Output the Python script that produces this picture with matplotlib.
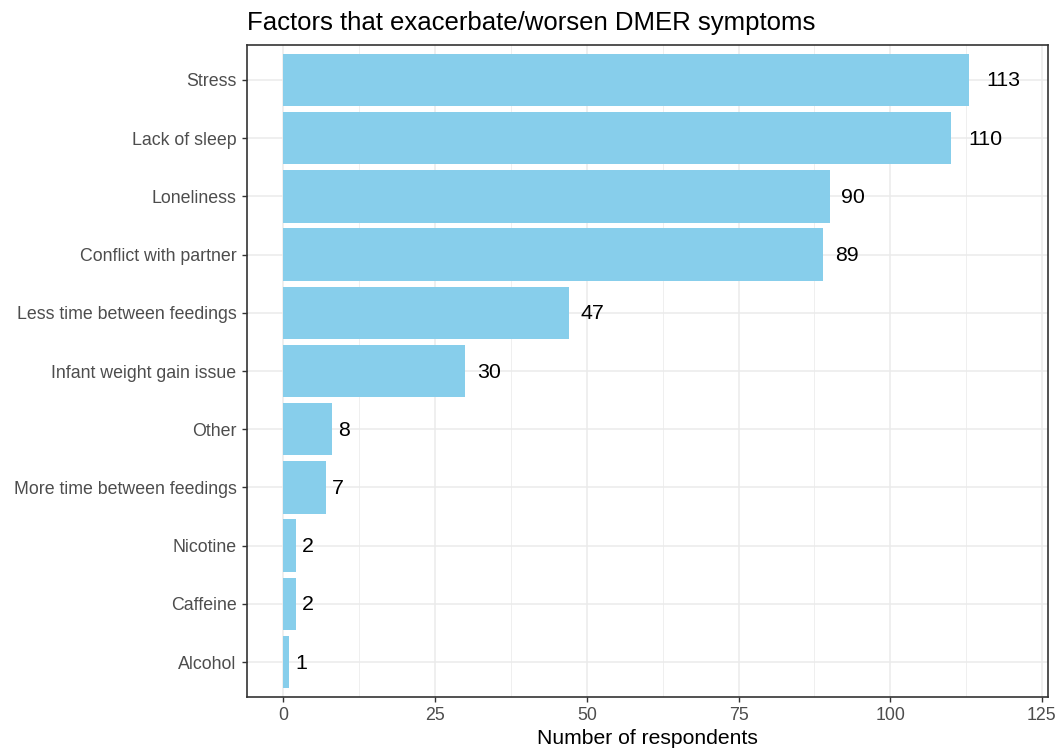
import numpy as np
import matplotlib.pyplot as plt
from matplotlib.transforms import offset_copy

plt.rcParams['font.family'] = ['Liberation Sans', 'DejaVu Sans']

# Data (top to bottom)
factors = ['Stress', 'Lack of sleep', 'Loneliness', 'Conflict with partner',
           'Less time between feedings', 'Infant weight gain issue', 'Other',
           'More time between feedings', 'Nicotine', 'Caffeine', 'Alcohol']
respondents = [113, 110, 90, 89, 47, 30, 8, 7, 2, 2, 1]
x_ticks = [0, 25, 50, 75, 100, 125]

W, H = 1059, 755
fig = plt.figure(figsize=(W / 100, H / 100), dpi=100)
# panel in pixel coordinates
left, top, right, bottom = 247, 45, 1048, 697
ax = fig.add_axes([left / W, 1 - bottom / H, (right - left) / W, (bottom - top) / H])

n = len(factors)
ypos = np.arange(n)[::-1]
ax.barh(ypos, respondents, height=0.9, color='#87CEEB', zorder=2)

ax.set_xlim(-6, 126)
ax.set_ylim(-0.6, n - 0.4)
ax.set_xticks(x_ticks)
ax.set_xticks(np.arange(12.5, 126, 25), minor=True)
ax.set_yticks(ypos)
ax.set_yticklabels(factors)

ax.grid(True, which='major', color='#EBEBEB', linewidth=1.1, zorder=0)
ax.grid(True, which='minor', axis='x', color='#EBEBEB', linewidth=0.55, zorder=0)
ax.set_axisbelow(True)
ax.tick_params(which='minor', length=0)
ax.tick_params(which='major', length=3.5, width=1.0, color='#333333',
               labelsize=12.8, labelcolor='#4D4D4D', pad=4)
for sp in ax.spines.values():
    sp.set_color('#333333')
    sp.set_linewidth(1.2)

ax.set_xlabel('Number of respondents', fontsize=15.2, color='black', labelpad=3)

# value labels, hjust = -0.5 like ggplot
fig.canvas.draw()
renderer = fig.canvas.get_renderer()
for y, v in zip(ypos, respondents):
    t = ax.text(v, y, str(v), ha='left', va='center', fontsize=15.4, color='black')
    w = t.get_window_extent(renderer).width
    t.set_transform(offset_copy(ax.transData, fig=fig, x=0.5 * w, y=-1, units='dots'))

fig.text(left / W, 1 - 23 / H, 'Factors that exacerbate/worsen DMER symptoms',
         ha='left', va='center', fontsize=18.5, color='black')

fig.savefig('out.png', dpi=100)
